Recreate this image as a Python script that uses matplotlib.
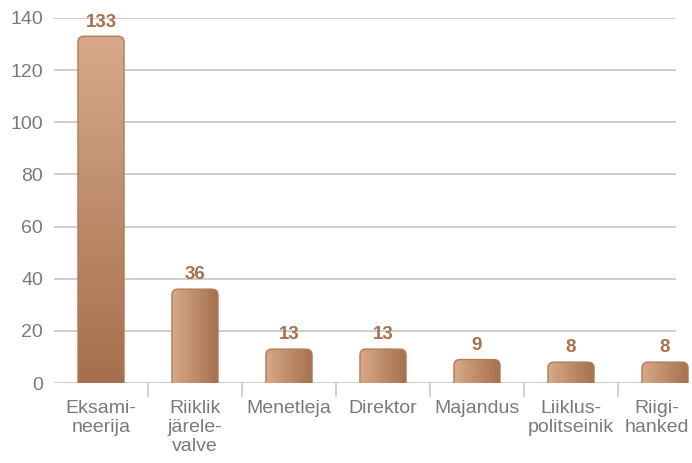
import numpy as np
import matplotlib
matplotlib.use("Agg")
import matplotlib.pyplot as plt
import matplotlib.transforms as mtransforms
from matplotlib.patches import FancyBboxPatch
from matplotlib.colors import LinearSegmentedColormap

categories = ["Eksami-\nneerija", "Riiklik\njärele-\nvalve", "Menetleja", "Direktor",
              "Majandus", "Liiklus-\npolitseinik", "Riigi-\nhanked"]
values = [133, 36, 13, 13, 9, 8, 8]
yticks = [0, 20, 40, 60, 80, 100, 120, 140]

plt.rcParams['font.family'] = ['Liberation Sans', 'DejaVu Sans']

fig = plt.figure(figsize=(6.92, 4.63), dpi=100)
ax = fig.add_axes([54 / 692, 80 / 463, (692 - 54) / 692, (383 - 18) / 463])

xmax = -0.5 + (692 - 54) / 94
grid_end = (675 - 54) / (692 - 54)

light = "#d7a98a"
dark = "#a56f4d"
cmap = LinearSegmentedColormap.from_list("bar", [light, dark])

# pixel -> data scale, for rounded corners
px_x = (xmax + 0.5) / (692 - 54)
px_y = 140 / (383 - 18)
radius_px = 6

width = 0.49
for i, v in enumerate(values):
    x0 = i - width / 2
    patch = FancyBboxPatch((x0, -10), width, v + 10,
                           boxstyle=f"round,pad=0,rounding_size={radius_px * px_x}",
                           mutation_aspect=px_y / px_x,
                           facecolor="none", edgecolor="#b27b5a", linewidth=1.0,
                           zorder=3)
    ax.add_patch(patch)
    if i == 0:
        # first bar shades top to bottom
        grad = np.linspace(1, 0, 256).reshape(-1, 1)
    else:
        grad = np.linspace(0, 1, 256).reshape(1, -1)
    im = ax.imshow(grad, cmap=cmap, vmin=0, vmax=1, aspect="auto",
                   extent=(x0, x0 + width, 0, v), origin="lower", zorder=2,
                   interpolation="bilinear")
    im.set_clip_path(patch)
    ax.text(i, v + 2.2, str(v), ha="center", va="bottom", fontsize=13.5,
            fontweight="bold", color="#a8714f", zorder=4, clip_on=False)

ax.set_xlim(-0.5, xmax)
ax.set_ylim(0, 140)

ax.set_yticks(yticks)
ax.set_yticklabels([str(t) for t in yticks])
for t in yticks:
    ax.axhline(t, xmin=0, xmax=grid_end, color="#c9c9c9", linewidth=1.3, zorder=0)

ax.set_xticks(range(len(categories)))
ax.set_xticklabels(categories, fontsize=14, color="#7a7a7a", linespacing=1.15, va="top")
ax.set_xticks(np.arange(0.5, len(categories) - 1, 1), minor=True)
ax.tick_params(axis="x", which="major", length=0, pad=12)
ax.tick_params(axis="x", which="minor", length=10, color="#c9c9c9", width=1.2)
ax.tick_params(axis="y", length=0, labelsize=14, labelcolor="#7a7a7a", pad=8)

# last label sits a bit left so it stays inside the figure
last = ax.get_xticklabels()[-1]
last.set_transform(last.get_transform() + mtransforms.ScaledTranslation(-6 / 72, 0, fig.dpi_scale_trans))

for s in ["top", "right", "left", "bottom"]:
    ax.spines[s].set_visible(False)

fig.savefig("out.png", dpi=100)
